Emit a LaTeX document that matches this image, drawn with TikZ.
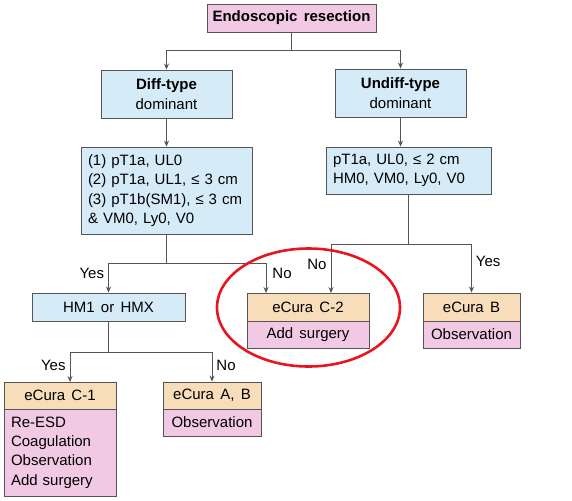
\documentclass[tikz,border=0pt]{standalone}
\usepackage{fontspec}
\setmainfont{Liberation Sans}[WordSpace=1.5]
\usepackage{tikz}
\usetikzlibrary{positioning,calc,arrows.meta}
\definecolor{epink}{HTML}{F2C9E4}
\definecolor{eblue}{HTML}{D5EBF8}
\definecolor{etan}{HTML}{F8DDBA}
\definecolor{eline}{HTML}{555555}
\definecolor{ered}{HTML}{E8141E}

\begin{document}
\begin{tikzpicture}[x=1pt, y=-1pt, >=Stealth,
  font=\fontsize{15}{19.3}\selectfont,
  box/.style={draw=eline, line width=0.9pt, inner sep=0pt, align=center},
  pinkbox/.style={box, fill=epink},
  bluebox/.style={box, fill=eblue},
  tanbox/.style={box, fill=etan},
  leftbox/.style={align=left, inner xsep=7pt},
  arr/.style={-{Stealth[length=6pt,width=5pt]}, line width=0.9pt, draw=eline},
  lnk/.style={line width=0.9pt, draw=eline},
  lbl/.style={inner sep=2pt}]
  \useasboundingbox (0,0) rectangle (572,500);
  % --- top
  \node[pinkbox, minimum width=169pt, minimum height=28pt] (res) at (291.5,18) {\bfseries Endoscopic resection};
  % --- histology
  \node[bluebox, minimum width=131pt, minimum height=48pt] (diff) at (166.5,94) {\textbf{Diff-type}\\dominant};
  \node[bluebox, minimum width=131pt, minimum height=48pt] (undiff) at (400.5,93) {\textbf{Undiff-type}\\dominant};
  % --- criteria
  \node[bluebox, leftbox, text width=157pt, minimum height=87pt] (critl) at (166.5,190.5)
    {(1) pT1a, UL0\\(2) pT1a, UL1, ≤ 3 cm\\(3) pT1b(SM1), ≤ 3 cm\\\& VM0, Ly0, V0};
  \node[bluebox, leftbox, text width=151pt, minimum height=47pt] (critr) at (408.5,170.5)
    {pT1a, UL0, ≤ 2 cm\\HM0, VM0, Ly0, V0};
  % --- margin check and eCura C-2 / B
  \node[bluebox, minimum width=153pt, minimum height=28pt] (hm) at (108.5,307) {HM1 or HMX};
  \node[tanbox, minimum width=122pt, minimum height=28pt] (c2) at (308,307) {eCura C-2};
  \node[pinkbox, minimum width=122pt, minimum height=27pt] (c2act) at (308,334.5) {Add surgery};
  \node[tanbox, minimum width=97pt, minimum height=28pt] (cb) at (471.5,307) {eCura B};
  \node[pinkbox, minimum width=97pt, minimum height=27pt] (cbact) at (471.5,334.5) {Observation};
  % --- eCura C-1 / A, B
  \node[tanbox, minimum width=112pt, minimum height=27pt] (c1) at (60,395.5) {eCura C-1};
  \node[pinkbox, leftbox, text width=98pt, minimum height=87pt] (c1act) at (60,452.5)
    {Re-ESD\\Coagulation\\Observation\\Add surgery};
  \node[tanbox, minimum width=98pt, minimum height=27pt] (cab) at (212,395.5) {eCura A, B};
  \node[pinkbox, minimum width=98pt, minimum height=27pt] (cabact) at (212,422.5) {Observation};
  % --- branch points
  \coordinate (j0) at (291.5,50);
  \coordinate (j1) at (166.5,263);
  \coordinate (j2) at (408.5,244);
  \coordinate (j3) at (108.5,352);
  \coordinate (c2l) at (266,293);
  \coordinate (c2r) at (331,293);
  \coordinate (c1t) at (70,382);
  \draw[lnk] (res) -- (j0);
  \draw[arr] (j0) -| (diff.north);
  \draw[arr] (j0) -| (undiff.north);
  \draw[arr] (diff) -- (critl);
  \draw[arr] (undiff.south) -- (undiff.south |- critr.north);
  \draw[lnk] (critl) -- (j1);
  \draw[arr] (j1) -| node[lbl, pos=0.68, left=2pt] (yes1) {Yes} (hm.north);
  \draw[arr] (j1) -| node[lbl, pos=0.68, right=4pt] (no1) {No} (c2l);
  \draw[lnk] (critr) -- (j2);
  \draw[arr] (j2) -| node[lbl, pos=0.71, left=2pt] (no2) {No} (c2r);
  \draw[arr] (j2) -| node[lbl, pos=0.68, right=2pt] (yes2) {Yes} (cb.north);
  \draw[lnk] (hm) -- (j3);
  \draw[arr] (j3) -| node[lbl, pos=0.72, left=2pt] (yes3) {Yes} (c1t);
  \draw[arr] (j3) -| node[lbl, pos=0.72, right=2pt] (no3) {No} (cab.north);
  % --- highlight
  \draw[ered, line width=2.6pt] (308.5,307.5) ellipse [x radius=91.5, y radius=59];
\end{tikzpicture}
\end{document}
